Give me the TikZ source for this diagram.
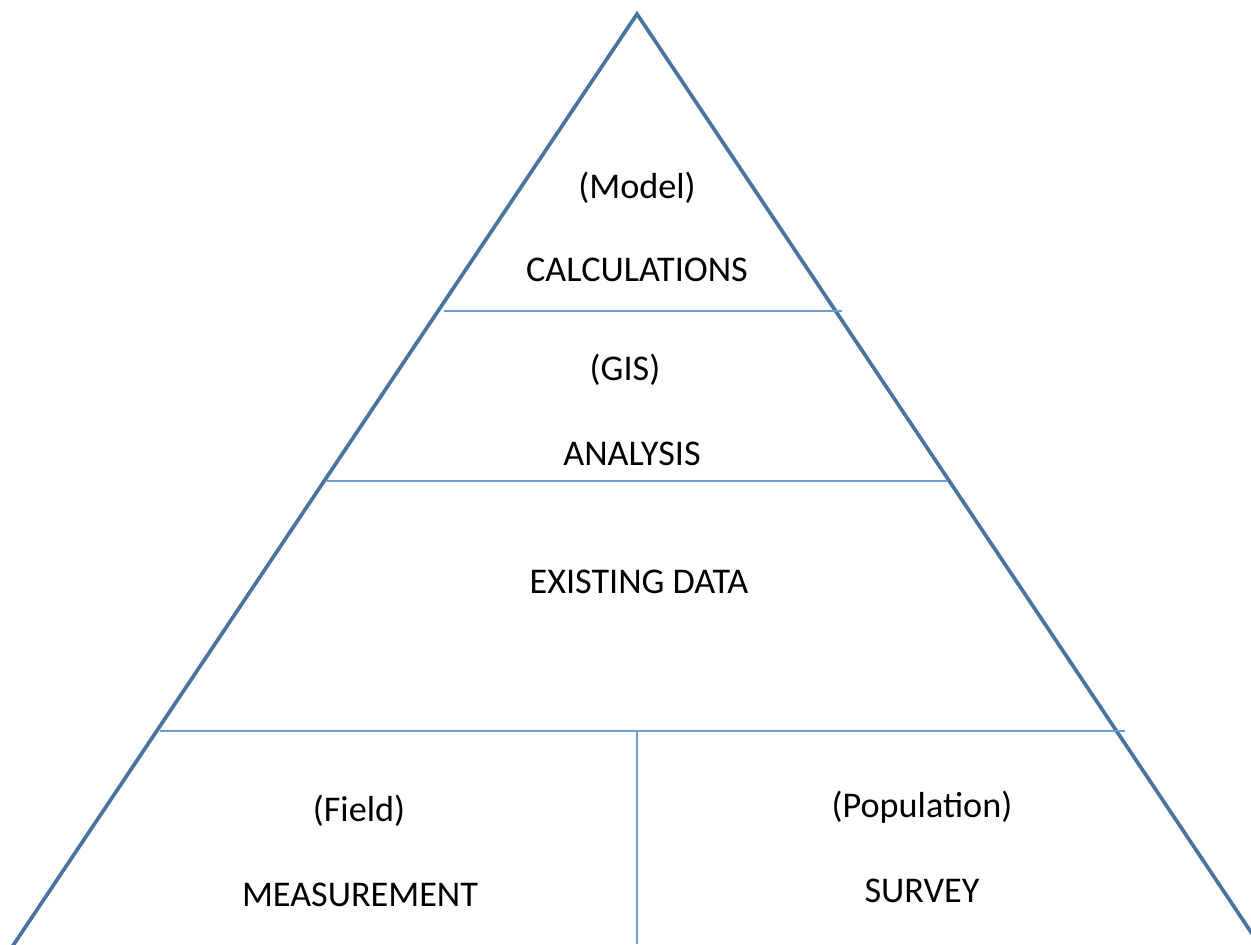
\documentclass[tikz,border=0pt]{standalone}
\usepackage{fontspec}
\setmainfont{Carlito}
\usepackage{xcolor}
\definecolor{edgeblue}{HTML}{4A74A0}
\definecolor{rowblue}{HTML}{6F9BD0}
\tikzset{
  pyredge/.style={draw=edgeblue, line width=2.1pt, line join=miter},
  rowline/.style={draw=rowblue, line width=0.9pt},
  tierlabel/.style={anchor=base, inner sep=0pt, font=\fontsize{20.6}{24}\selectfont}
}

\begin{document}
\begin{tikzpicture}[x=0.02cm, y=-0.02cm]

                        \useasboundingbox (0,0) rectangle (1251,944);
                        \clip (0,0) rectangle (1251,944);

                        % pyramid
                        \coordinate (apex) at (637,14);
                        \coordinate (bl) at (6,956);
                        \coordinate (br) at (1267,956);

                        % rows
                        \coordinate (r1l) at (444,311);
                        \coordinate (r1r) at (842,311);
                        \coordinate (r2l) at (327,481);
                        \coordinate (r2r) at (948,481);
                        \coordinate (r3l) at (160,731);
                        \coordinate (r3r) at (1125,731);
                        \coordinate (mid) at (637,731);
                        \coordinate (midb) at (637,944);

                        \draw[pyredge] (bl) -- (apex) -- (br);

                        \draw[rowline] (r1l) -- (r1r);
                        \draw[rowline] (r2l) -- (r2r);
                        \draw[rowline] (r3l) -- (r3r);
                        \draw[rowline] (mid) -- (midb);

                        % labels
                        \node[tierlabel] (model) at (637,198) {(Model)};
                        \node[tierlabel] (calc) at (637,281) {CALCULATIONS};
                        \node[tierlabel] (gis) at (625,380) {(GIS)};
                        \node[tierlabel] (analysis) at (632,465) {ANALYSIS};
                        \node[tierlabel] (existing) at (639,593) {EXISTING DATA};
                        \node[tierlabel] (field) at (359,821) {(Field)};
                        \node[tierlabel] (measure) at (360,906) {MEASUREMENT};
                        \node[tierlabel] (population) at (922,817) {(Population)};
                        \node[tierlabel] (survey) at (922,902) {SURVEY};

\end{tikzpicture}
\end{document}
